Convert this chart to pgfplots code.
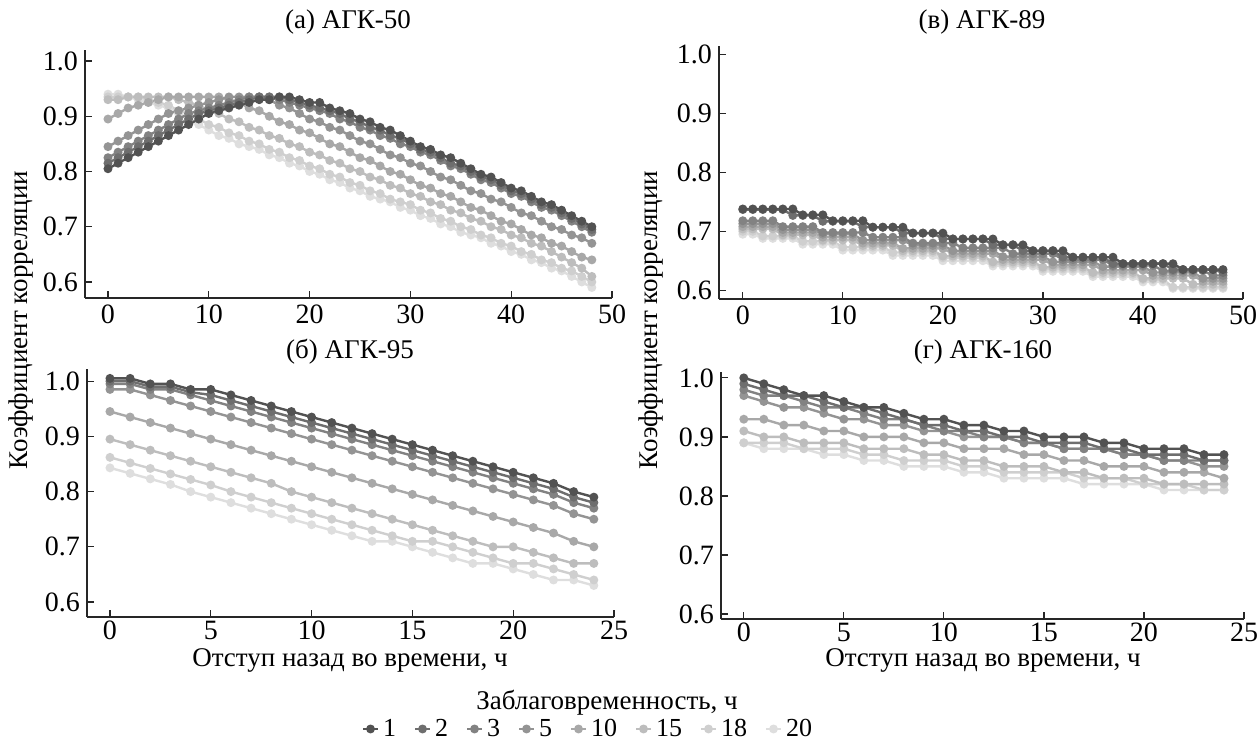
\documentclass[border=0pt]{standalone}
\usepackage{fontspec}
\setmainfont{Liberation Serif}
\usepackage{pgfplots}
\usepackage{pgfplotstable}
\pgfplotsset{compat=1.18}

\pgfplotstableread{
x s1 s2 s3 s5 s10 s15 s18 s20
0 0.805 0.815 0.825 0.845 0.895 0.93 0.935 0.94
1 0.815 0.825 0.835 0.855 0.905 0.93 0.935 0.94
2 0.825 0.835 0.845 0.865 0.915 0.935 0.935 0.935
3 0.835 0.845 0.855 0.875 0.92 0.935 0.935 0.93
4 0.845 0.855 0.865 0.885 0.925 0.935 0.93 0.925
5 0.855 0.865 0.875 0.895 0.93 0.935 0.925 0.92
6 0.865 0.875 0.885 0.905 0.935 0.935 0.92 0.915
7 0.875 0.885 0.895 0.91 0.935 0.93 0.91 0.905
8 0.885 0.895 0.905 0.915 0.935 0.925 0.905 0.895
9 0.895 0.905 0.91 0.92 0.935 0.92 0.895 0.885
10 0.905 0.91 0.915 0.925 0.935 0.91 0.885 0.875
11 0.91 0.915 0.92 0.93 0.935 0.905 0.88 0.865
12 0.915 0.92 0.925 0.935 0.93 0.895 0.87 0.86
13 0.92 0.925 0.93 0.935 0.925 0.89 0.865 0.85
14 0.925 0.93 0.935 0.935 0.915 0.88 0.855 0.845
15 0.93 0.935 0.935 0.935 0.91 0.875 0.85 0.84
16 0.93 0.935 0.935 0.93 0.90 0.865 0.84 0.83
17 0.935 0.935 0.93 0.92 0.89 0.86 0.835 0.825
18 0.935 0.93 0.925 0.915 0.885 0.85 0.825 0.815
19 0.93 0.925 0.92 0.905 0.875 0.845 0.82 0.81
20 0.925 0.92 0.915 0.895 0.87 0.835 0.81 0.80
21 0.925 0.915 0.91 0.89 0.86 0.83 0.805 0.795
22 0.915 0.91 0.905 0.88 0.85 0.82 0.795 0.785
23 0.91 0.905 0.895 0.875 0.845 0.815 0.79 0.78
24 0.905 0.895 0.89 0.865 0.835 0.805 0.78 0.77
25 0.895 0.89 0.88 0.855 0.825 0.80 0.775 0.765
26 0.89 0.88 0.875 0.85 0.82 0.79 0.765 0.755
27 0.88 0.875 0.865 0.84 0.81 0.785 0.76 0.75
28 0.875 0.865 0.86 0.83 0.80 0.775 0.75 0.745
29 0.865 0.86 0.85 0.825 0.795 0.77 0.745 0.735
30 0.855 0.85 0.845 0.815 0.785 0.76 0.74 0.73
31 0.845 0.84 0.835 0.81 0.775 0.755 0.73 0.72
32 0.84 0.835 0.83 0.80 0.77 0.745 0.725 0.715
33 0.83 0.825 0.82 0.79 0.76 0.74 0.715 0.705
34 0.825 0.815 0.81 0.785 0.755 0.73 0.71 0.70
35 0.815 0.81 0.805 0.775 0.745 0.725 0.70 0.69
36 0.805 0.80 0.795 0.765 0.735 0.715 0.695 0.685
37 0.795 0.79 0.785 0.76 0.73 0.71 0.685 0.68
38 0.79 0.785 0.78 0.75 0.72 0.70 0.68 0.67
39 0.78 0.775 0.77 0.745 0.71 0.695 0.67 0.665
40 0.77 0.765 0.76 0.735 0.705 0.685 0.665 0.655
41 0.765 0.76 0.755 0.725 0.695 0.68 0.655 0.65
42 0.755 0.75 0.745 0.72 0.685 0.67 0.65 0.64
43 0.745 0.74 0.735 0.71 0.68 0.665 0.64 0.635
44 0.74 0.735 0.73 0.70 0.67 0.655 0.635 0.625
45 0.73 0.725 0.72 0.695 0.665 0.645 0.625 0.62
46 0.72 0.715 0.71 0.685 0.655 0.635 0.62 0.61
47 0.71 0.705 0.70 0.68 0.645 0.625 0.61 0.60
48 0.70 0.695 0.69 0.67 0.64 0.61 0.60 0.59
}\tabA

\pgfplotstableread{
x s1 s2 s3 s5 s10 s15 s18 s20
0 .738 .737 .718 .713 .708 .704 .700 .695
1 .738 .737 .718 .713 .708 .704 .700 .695
2 .738 .737 .718 .713 .708 .704 .692 .688
3 .738 .737 .718 .713 .708 .704 .692 .688
4 .738 .737 .708 .703 .698 .694 .692 .688
5 .738 .727 .708 .703 .698 .694 .692 .688
6 .728 .727 .708 .703 .698 .694 .683 .678
7 .728 .727 .708 .703 .698 .694 .683 .678
8 .728 .717 .698 .695 .690 .685 .683 .678
9 .718 .717 .698 .695 .690 .685 .683 .678
10 .718 .717 .698 .695 .690 .685 .673 .668
11 .718 .717 .698 .695 .690 .685 .673 .668
12 .718 .707 .698 .685 .680 .676 .673 .668
13 .707 .707 .690 .685 .680 .676 .673 .668
14 .707 .707 .690 .685 .680 .676 .673 .668
15 .707 .707 .690 .685 .680 .676 .664 .659
16 .707 .697 .690 .685 .671 .667 .664 .659
17 .697 .697 .680 .676 .671 .667 .664 .659
18 .697 .697 .680 .676 .671 .667 .664 .659
19 .697 .697 .680 .676 .671 .667 .664 .659
20 .697 .687 .680 .676 .671 .658 .655 .650
21 .687 .687 .680 .667 .662 .658 .655 .650
22 .687 .687 .672 .667 .662 .658 .655 .650
23 .687 .687 .672 .667 .662 .658 .655 .650
24 .687 .687 .672 .667 .662 .658 .655 .650
25 .687 .677 .672 .667 .662 .648 .645 .641
26 .677 .677 .672 .657 .652 .648 .645 .641
27 .677 .677 .662 .657 .652 .648 .645 .641
28 .677 .667 .662 .657 .652 .648 .645 .641
29 .667 .667 .662 .657 .652 .648 .645 .641
30 .667 .667 .662 .657 .652 .639 .636 .632
31 .667 .667 .662 .648 .643 .639 .636 .632
32 .667 .656 .652 .648 .643 .639 .636 .632
33 .656 .656 .652 .648 .643 .639 .636 .632
34 .656 .656 .652 .648 .643 .639 .636 .632
35 .656 .656 .652 .648 .643 .630 .627 .623
36 .656 .656 .652 .640 .634 .630 .627 .623
37 .656 .645 .642 .640 .634 .630 .627 .623
38 .645 .645 .642 .640 .634 .630 .627 .623
39 .645 .645 .642 .640 .634 .630 .627 .623
40 .645 .645 .642 .640 .634 .620 .618 .614
41 .645 .645 .642 .630 .625 .620 .618 .614
42 .645 .645 .633 .630 .625 .620 .618 .614
43 .645 .635 .633 .630 .625 .620 .605 .603
44 .635 .635 .633 .630 .625 .620 .605 .603
45 .635 .635 .633 .630 .625 .610 .605 .603
46 .635 .635 .633 .620 .615 .610 .605 .603
47 .635 .635 .625 .620 .615 .610 .605 .603
48 .635 .630 .625 .620 .615 .610 .605 .603
}\tabB

\pgfplotstableread{
x s1 s2 s3 s5 s10 s15 s18 s20
0 1.005 1.00 0.995 0.985 0.945 0.895 0.862 0.843
1 1.005 1.00 0.995 0.985 0.935 0.885 0.852 0.833
2 0.995 0.99 0.985 0.975 0.925 0.875 0.842 0.823
3 0.995 0.99 0.985 0.965 0.915 0.865 0.832 0.813
4 0.985 0.98 0.975 0.955 0.905 0.855 0.822 0.80
5 0.985 0.975 0.965 0.945 0.895 0.845 0.812 0.79
6 0.975 0.965 0.955 0.935 0.885 0.835 0.80 0.78
7 0.965 0.955 0.945 0.925 0.875 0.825 0.79 0.77
8 0.955 0.945 0.935 0.915 0.865 0.815 0.78 0.76
9 0.945 0.935 0.925 0.905 0.855 0.80 0.77 0.75
10 0.935 0.925 0.915 0.895 0.845 0.79 0.76 0.74
11 0.925 0.915 0.905 0.885 0.835 0.78 0.75 0.73
12 0.915 0.905 0.895 0.875 0.825 0.77 0.74 0.72
13 0.905 0.895 0.885 0.865 0.815 0.76 0.73 0.71
14 0.895 0.885 0.875 0.855 0.805 0.75 0.72 0.71
15 0.885 0.875 0.865 0.845 0.795 0.74 0.71 0.70
16 0.875 0.865 0.855 0.835 0.785 0.73 0.71 0.69
17 0.865 0.855 0.845 0.825 0.775 0.72 0.70 0.68
18 0.855 0.845 0.835 0.815 0.765 0.71 0.69 0.67
19 0.845 0.835 0.825 0.805 0.755 0.70 0.68 0.67
20 0.835 0.825 0.815 0.795 0.745 0.70 0.67 0.66
21 0.825 0.815 0.805 0.785 0.735 0.69 0.67 0.65
22 0.815 0.805 0.795 0.775 0.725 0.68 0.66 0.64
23 0.80 0.79 0.78 0.76 0.71 0.67 0.65 0.64
24 0.79 0.78 0.77 0.75 0.70 0.67 0.64 0.63
}\tabC

\pgfplotstableread{
x s1 s2 s3 s5 s10 s15 s18 s20
0 1.00 0.99 0.98 0.97 0.93 0.91 0.89 0.89
1 0.99 0.98 0.97 0.96 0.93 0.90 0.89 0.88
2 0.98 0.97 0.97 0.95 0.92 0.90 0.89 0.88
3 0.97 0.97 0.96 0.95 0.92 0.89 0.88 0.88
4 0.97 0.96 0.95 0.94 0.91 0.89 0.88 0.87
5 0.96 0.95 0.95 0.93 0.91 0.89 0.88 0.87
6 0.95 0.95 0.94 0.93 0.90 0.88 0.87 0.86
7 0.95 0.94 0.93 0.92 0.90 0.88 0.87 0.86
8 0.94 0.93 0.93 0.92 0.90 0.88 0.86 0.85
9 0.93 0.92 0.92 0.91 0.89 0.87 0.86 0.85
10 0.93 0.92 0.91 0.91 0.89 0.87 0.86 0.85
11 0.92 0.91 0.91 0.90 0.88 0.86 0.85 0.84
12 0.92 0.91 0.90 0.90 0.88 0.86 0.85 0.84
13 0.91 0.90 0.90 0.90 0.88 0.85 0.84 0.83
14 0.91 0.90 0.89 0.89 0.87 0.85 0.84 0.83
15 0.90 0.89 0.89 0.89 0.87 0.85 0.84 0.83
16 0.90 0.89 0.88 0.88 0.86 0.84 0.84 0.83
17 0.90 0.89 0.88 0.88 0.86 0.84 0.83 0.82
18 0.89 0.88 0.88 0.88 0.85 0.83 0.83 0.82
19 0.89 0.88 0.87 0.87 0.85 0.83 0.83 0.82
20 0.88 0.87 0.87 0.87 0.85 0.83 0.82 0.82
21 0.88 0.87 0.86 0.86 0.84 0.82 0.82 0.81
22 0.88 0.87 0.86 0.86 0.84 0.82 0.82 0.81
23 0.87 0.86 0.86 0.85 0.84 0.82 0.81 0.81
24 0.87 0.86 0.86 0.85 0.83 0.82 0.81 0.81
}\tabD

\colorlet{c1}{black!68}
\colorlet{c2}{black!57}
\colorlet{c3}{black!49}
\colorlet{c5}{black!42}
\colorlet{c10}{black!34}
\colorlet{c15}{black!26}
\colorlet{c18}{black!19}
\colorlet{c20}{black!13}

\pgfplotsset{
  panel/.style={
    scale only axis, width=263.5pt,
    axis x line*=bottom, axis y line*=left,
    axis line style={-, black!85, line width=0.6pt},
    tick align=inside, major tick length=3.5pt,
    tick style={black!85, line width=0.6pt},
    ytick={0.6,0.7,0.8,0.9,1.0},
    yticklabel style={/pgf/number format/fixed,/pgf/number format/fixed zerofill,/pgf/number format/precision=1},
    /pgf/number format/assume math mode=true,
    tick label style={font=\fontsize{14}{16}\selectfont},
    clip=false,
  },
  ser/.style={color=#1, mark=*, mark size=1.6pt, line width=1.2pt, mark options={solid}},
}

\newcommand{\plotall}[1]{%
  \addplot[ser=c20] table[x=x,y=s20]{#1};
  \addplot[ser=c18] table[x=x,y=s18]{#1};
  \addplot[ser=c15] table[x=x,y=s15]{#1};
  \addplot[ser=c10] table[x=x,y=s10]{#1};
  \addplot[ser=c5] table[x=x,y=s5]{#1};
  \addplot[ser=c3] table[x=x,y=s3]{#1};
  \addplot[ser=c2] table[x=x,y=s2]{#1};
  \addplot[ser=c1] table[x=x,y=s1]{#1};
}

\begin{document}
\begin{tikzpicture}
\path[use as bounding box] (0,0) rectangle (629.5pt,371.5pt);

% (a)
\begin{axis}[panel, at={(42.5pt,222.5pt)}, anchor=south west, height=124pt,
  xmin=-2.28, xmax=50, ymin=0.571, ymax=1.02, xtick={0,10,20,30,40,50}]
  \plotall{\tabA}
\end{axis}

% (v)
\begin{axis}[panel, at={(359.5pt,222pt)}, anchor=south west, width=262pt, height=126.5pt,
  xmin=-2.38, xmax=50, ymin=0.585, ymax=1.015, xtick={0,10,20,30,40,50}]
  \plotall{\tabB}
\end{axis}

% (b)
\begin{axis}[panel, at={(43.5pt,63pt)}, anchor=south west, height=124pt,
  xmin=-1.14, xmax=25, ymin=0.573, ymax=1.022, xtick={0,5,10,15,20,25},
  xticklabel style={yshift=1.5pt},
  legend columns=8, reverse legend,
  legend style={at={(0.9526,-0.4516)}, anchor=center, draw=none, fill=none,
    font=\fontsize{13}{15}\selectfont, inner sep=0pt,
    /tikz/every even column/.append style={column sep=7pt}},
  legend image code/.code={\draw[mark repeat=2,mark phase=2,#1,line width=1pt,mark size=1.7pt] plot coordinates {(0pt,0pt) (3.75pt,0pt) (7.5pt,0pt)};}]
  \plotall{\tabC}
  \legend{20,18,15,10,5,3,2,1}
\end{axis}

% (g)
\begin{axis}[panel, at={(360.5pt,62pt)}, anchor=south west, width=261.5pt, height=123.5pt,
  xmin=-1.14, xmax=25, ymin=0.5915, ymax=1.01, xtick={0,5,10,15,20,25},
  xticklabel style={yshift=1.5pt}]
  \plotall{\tabD}
\end{axis}

\begin{scope}[every node/.style={font=\fontsize{13.5}{15}\selectfont, inner sep=0pt}]
\node at (174pt,360.5pt) {(а) АГК-50};
\node at (491pt,360.5pt) {(в) АГК-89};
\node at (175pt,195.5pt) {(б) АГК-95};
\node at (491.5pt,195.5pt) {(г) АГК-160};
\node[rotate=90] at (10.5pt,211.5pt) {Коэффициент корреляции};
\node[rotate=90] at (325.5pt,211.5pt) {Коэффициент корреляции};
\node at (175pt,41.5pt) {Отступ назад во времени, ч};
\node at (491.5pt,41.5pt) {Отступ назад во времени, ч};
\node at (303.5pt,20pt) {Заблаговременность, ч};
\end{scope}
\end{tikzpicture}
\end{document}
